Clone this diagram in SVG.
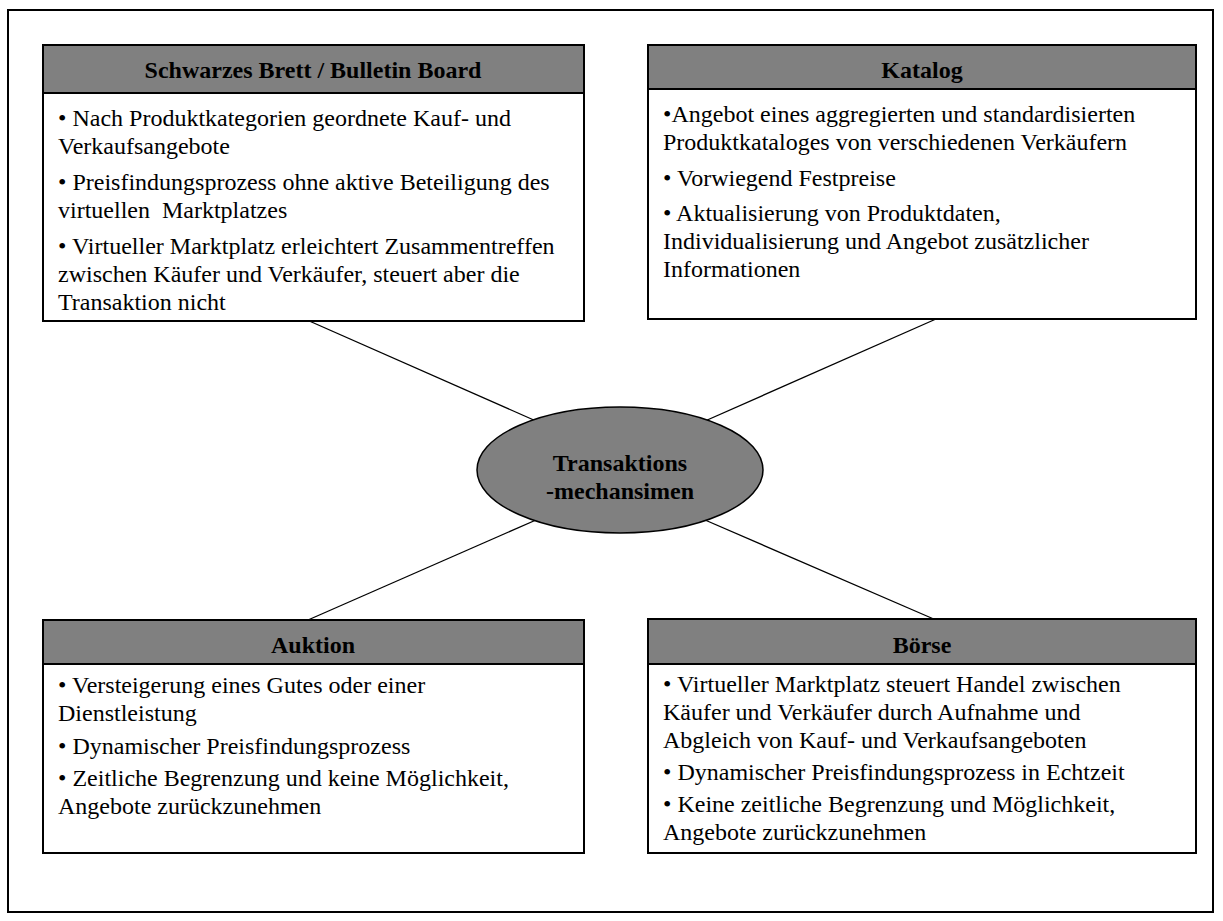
<svg xmlns="http://www.w3.org/2000/svg" width="1223" height="921" viewBox="0 0 1223 921">
<style>
.frame{fill:#fff;stroke:#000;stroke-width:2}
.box{fill:#fff;stroke:#000;stroke-width:2}
.hdr{fill:#808080;stroke:#000;stroke-width:2}
.t{font-family:"Liberation Serif","Times New Roman",serif;font-size:24px;fill:#000}
.h{font-family:"Liberation Serif","Times New Roman",serif;font-size:24px;font-weight:bold;fill:#000;text-anchor:middle}
.conn line{stroke:#000;stroke-width:1.3}
</style>
<rect class="frame" x="8" y="10" width="1205" height="902"/>
<g class="conn" id="connectors">
<line x1="307" y1="320" x2="536" y2="421"/>
<line x1="936" y1="319" x2="705" y2="421"/>
<line x1="308" y1="620" x2="536" y2="520"/>
<line x1="936" y1="620" x2="705" y2="520"/>
</g>
<g id="bulletin">
<rect class="box" x="43" y="45" width="541" height="276"/>
<rect class="hdr" x="43" y="45" width="541" height="48"/>
<text class="h" x="313" y="78">Schwarzes Brett / Bulletin Board</text>
<text class="t" x="58" y="126">• Nach Produktkategorien geordnete Kauf- und</text>
<text class="t" x="58" y="154">Verkaufsangebote</text>
<text class="t" x="58" y="190">• Preisfindungsprozess ohne aktive Beteiligung des</text>
<text class="t" x="58" y="218" xml:space="preserve">virtuellen  Marktplatzes</text>
<text class="t" x="58" y="254">• Virtueller Marktplatz erleichtert Zusammentreffen</text>
<text class="t" x="58" y="282">zwischen Käufer und Verkäufer, steuert aber die</text>
<text class="t" x="58" y="310">Transaktion nicht</text>
</g>
<g id="katalog">
<rect class="box" x="648" y="45" width="548" height="274"/>
<rect class="hdr" x="648" y="45" width="548" height="44"/>
<text class="h" x="922" y="78">Katalog</text>
<text class="t" x="663" y="122">•Angebot eines aggregierten und standardisierten</text>
<text class="t" x="663" y="150">Produktkataloges von verschiedenen Verkäufern</text>
<text class="t" x="663" y="186">• Vorwiegend Festpreise</text>
<text class="t" x="663" y="221">• Aktualisierung von Produktdaten,</text>
<text class="t" x="663" y="249">Individualisierung und Angebot zusätzlicher</text>
<text class="t" x="663" y="277">Informationen</text>
</g>
<g id="auktion">
<rect class="box" x="43" y="620" width="541" height="233"/>
<rect class="hdr" x="43" y="620" width="541" height="44"/>
<text class="h" x="313" y="653">Auktion</text>
<text class="t" x="58" y="693">• Versteigerung eines Gutes oder einer</text>
<text class="t" x="58" y="721">Dienstleistung</text>
<text class="t" x="58" y="754">• Dynamischer Preisfindungsprozess</text>
<text class="t" x="58" y="786">• Zeitliche Begrenzung und keine Möglichkeit,</text>
<text class="t" x="58" y="814">Angebote zurückzunehmen</text>
</g>
<g id="boerse">
<rect class="box" x="648" y="619" width="548" height="234"/>
<rect class="hdr" x="648" y="619" width="548" height="45"/>
<text class="h" x="922" y="653">Börse</text>
<text class="t" x="663" y="692">• Virtueller Marktplatz steuert Handel zwischen</text>
<text class="t" x="663" y="720">Käufer und Verkäufer durch Aufnahme und</text>
<text class="t" x="663" y="748">Abgleich von Kauf- und Verkaufsangeboten</text>
<text class="t" x="663" y="780">• Dynamischer Preisfindungsprozess in Echtzeit</text>
<text class="t" x="663" y="812">• Keine zeitliche Begrenzung und Möglichkeit,</text>
<text class="t" x="663" y="840">Angebote zurückzunehmen</text>
</g>
<g id="center">
<ellipse cx="620" cy="470" rx="143" ry="63" fill="#808080" stroke="#000" stroke-width="1.5"/>
<text class="h" x="620" y="471">Transaktions</text>
<text class="h" x="620" y="499">-mechansimen</text>
</g>
</svg>
